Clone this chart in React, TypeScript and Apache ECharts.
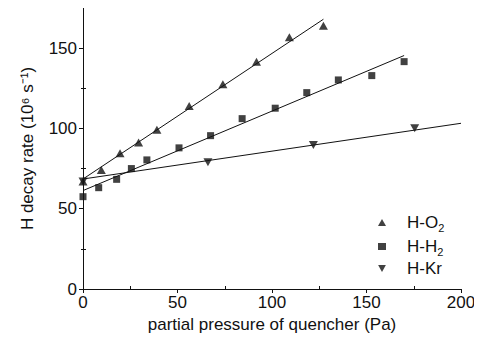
import React, { useEffect, useRef } from "react";
import * as echarts from "echarts";

// Measured points (partial pressure in Pa, H decay rate in 10^6 s^-1)
const o2X = [0, 9.7, 19.6, 29.4, 39.1, 56.2, 74, 91.8, 109.2, 127.2];
const o2Y = [67, 74.1, 84.5, 91.2, 99.1, 114, 127.5, 141.6, 156.8, 163.9];

const h2X = [0, 8.3, 17.8, 25.6, 33.8, 50.8, 67.5, 84.2, 101.7, 118.4, 135.1, 152.8, 169.9];
const h2Y = [57.5, 63.1, 68.3, 75, 80.4, 87.9, 95.5, 106.1, 112.6, 122.3, 130.2, 132.9, 141.6];

const krX = [0, 66.1, 121.9, 175.5];
const krY = [67, 78.9, 89.7, 100.1];

// Linear fit line endpoints
const o2FitX = [0, 127.2];
const o2FitY = [68.5, 168];
const h2FitX = [0, 169.9];
const h2FitY = [61.3, 145.4];
const krFitX = [0, 200];
const krFitY = [68.5, 103.2];

const xMajorTicks = [0, 50, 100, 150, 200];
const xMinorTicks = [25, 75, 125, 175];
const yMajorTicks = [0, 50, 100, 150];
const yMinorTicks = [25, 75, 125];
const yRightTicks = [0, 25, 50, 75, 100, 125, 150];

const seriesNames = ["H-O2", "H-H2", "H-Kr"];
const legendLabels: Record<string, string> = {
  "H-O2": "{gap|}{t|H-O}{s|2}",
  "H-H2": "{gap|}{t|H-H}{s|2}",
  "H-Kr": "{gap|}{t|H-Kr}",
};

const FONT = "'Liberation Sans', Arial, Helvetica, sans-serif";
const INK = "#111";
const DOWN_TRI = "path://M0,0L10,0L5,9Z";

const zip = (xs: number[], ys: number[]) => xs.map((x, i) => [x, ys[i]]);

export default function App() {
  const ref = useRef<HTMLDivElement>(null);
  useEffect(() => {
    if (!ref.current) return;
    const chart = echarts.init(ref.current, undefined, { renderer: "svg" });
    const fitLine = (name: string, xs: number[], ys: number[]) => ({
      name,
      type: "line",
      data: zip(xs, ys),
      showSymbol: false,
      silent: true,
      lineStyle: { color: INK, width: 1 },
      z: 1,
    });
    chart.setOption({
      animation: false,
      backgroundColor: "#fff",
      textStyle: { fontFamily: FONT },
      grid: { left: 83, right: 21, top: 8, bottom: 60 },
      legend: {
        data: seriesNames,
        orient: "vertical",
        left: 373,
        top: 207,
        itemWidth: 8,
        itemHeight: 7,
        itemGap: 3,
        formatter: (n: string) => legendLabels[n],
        textStyle: {
          color: INK,
          fontSize: 17,
          fontFamily: FONT,
          rich: {
            gap: { width: 16 },
            t: { fontSize: 17, fontFamily: FONT, color: INK, lineHeight: 17 },
            s: {
              fontSize: 11,
              fontFamily: FONT,
              color: INK,
              lineHeight: 17,
              padding: [10, 0, 0, 0],
            },
          },
        },
      },
      xAxis: [
        {
          type: "value",
          position: "bottom",
          min: 0,
          max: 200,
          interval: 50,
          splitLine: { show: false },
          axisLine: { lineStyle: { color: INK, width: 1 } },
          axisTick: { show: true, inside: false, length: 4, lineStyle: { color: INK }, customValues: xMajorTicks },
          axisLabel: { color: INK, fontSize: 17, fontFamily: FONT, margin: 5, customValues: xMajorTicks },
          name: "partial pressure of quencher (Pa)",
          nameLocation: "middle",
          nameGap: 27,
          nameTextStyle: { color: INK, fontSize: 17, fontFamily: FONT, verticalAlign: "top" },
        },
        {
          type: "value",
          position: "bottom",
          min: 0,
          max: 200,
          interval: 25,
          splitLine: { show: false },
          axisLine: { show: false },
          axisTick: { show: true, inside: true, length: 3, lineStyle: { color: INK }, customValues: xMinorTicks },
          axisLabel: { show: false },
        },
        {
          type: "value",
          position: "top",
          min: 0,
          max: 200,
          interval: 50,
          splitLine: { show: false },
          axisLine: { show: true, lineStyle: { color: INK, width: 1 } },
          axisTick: { show: false },
          axisLabel: { show: false },
        },
      ],
      yAxis: [
        {
          type: "value",
          position: "left",
          min: 0,
          max: 175,
          interval: 25,
          splitLine: { show: false },
          axisLine: { show: true, lineStyle: { color: INK, width: 1 } },
          axisTick: { show: true, inside: false, length: 4, lineStyle: { color: INK }, customValues: yMajorTicks },
          axisLabel: { color: INK, fontSize: 17, fontFamily: FONT, margin: 6, customValues: yMajorTicks },
          name: "H decay rate (10⁶ s⁻¹)",
          nameLocation: "middle",
          nameGap: 47,
          nameTextStyle: { color: INK, fontSize: 17, fontFamily: FONT },
        },
        {
          type: "value",
          position: "left",
          min: 0,
          max: 175,
          interval: 25,
          splitLine: { show: false },
          axisLine: { show: false },
          axisTick: { show: true, inside: true, length: 3, lineStyle: { color: INK }, customValues: yMinorTicks },
          axisLabel: { show: false },
        },
        {
          type: "value",
          position: "right",
          min: 0,
          max: 175,
          interval: 25,
          splitLine: { show: false },
          axisLine: { show: true, lineStyle: { color: INK, width: 1 } },
          axisTick: { show: true, inside: true, length: 2, lineStyle: { color: INK }, customValues: yRightTicks },
          axisLabel: { show: false },
        },
      ],
      series: [
        fitLine("fitO2", o2FitX, o2FitY),
        fitLine("fitH2", h2FitX, h2FitY),
        fitLine("fitKr", krFitX, krFitY),
        {
          name: seriesNames[0],
          type: "scatter",
          data: zip(o2X, o2Y),
          symbol: "triangle",
          symbolSize: [9, 8],
          itemStyle: { color: INK },
          z: 3,
        },
        {
          name: seriesNames[1],
          type: "scatter",
          data: zip(h2X, h2Y),
          symbol: "rect",
          symbolSize: 7,
          itemStyle: { color: INK },
          z: 3,
        },
        {
          name: seriesNames[2],
          type: "scatter",
          data: zip(krX, krY),
          symbol: DOWN_TRI,
          symbolSize: [9, 8],
          itemStyle: { color: INK },
          z: 3,
        },
      ],
    });
    return () => chart.dispose();
  }, []);
  return <div ref={ref} style={{ width: 482, height: 349, margin: -8 }} />;
}
